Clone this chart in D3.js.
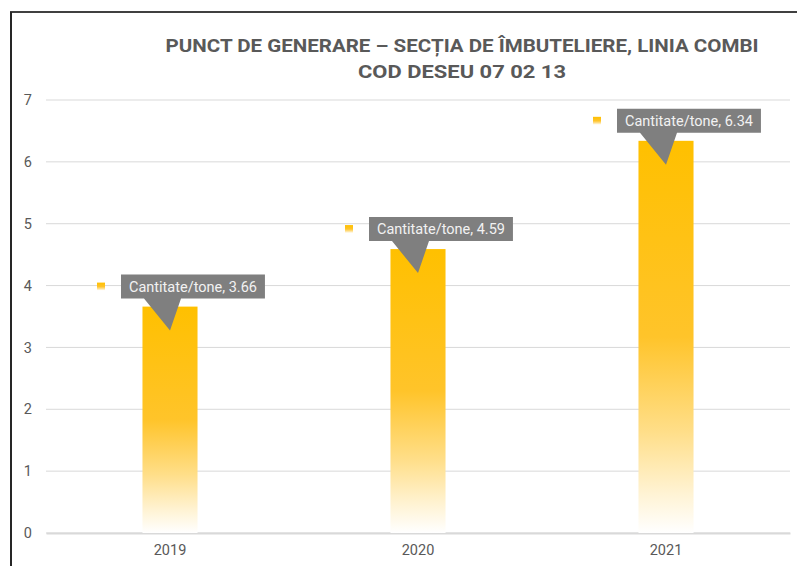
<!DOCTYPE html>
<html>
<head>
<meta charset="utf-8">
<script src="https://cdn.jsdelivr.net/npm/d3@7"></script>
<style>
  body { margin: 0; background: #fff; }
  svg text { font-family: "Roboto", "Liberation Sans", sans-serif; }
</style>
</head>
<body>
<svg width="797" height="566"></svg>
<script>
var years = ["2019", "2020", "2021"];
var values = [3.66, 4.59, 6.34];
var seriesName = "Cantitate/tone";
var yTicks = [0, 1, 2, 3, 4, 5, 6, 7];
var titleLines = ["PUNCT DE GENERARE \u2013 SEC\u021AIA DE \u00CEMBUTELIERE, LINIA COMBI", "COD DESEU 07 02 13"];
var titleWidths = [593, 208];

var svg = d3.select("svg");
var margin = { top: 100, right: 7, bottom: 33, left: 46 },
    width = 797 - margin.left - margin.right,
    height = 566 - margin.top - margin.bottom;

// gradient for bars: solid gold fading to white at the base
var defs = svg.append("defs");
var grad = defs.append("linearGradient")
    .attr("id", "barGrad")
    .attr("x1", 0).attr("y1", 0).attr("x2", 0).attr("y2", 1);
grad.append("stop").attr("offset", "0").attr("stop-color", "#FFC000");
grad.append("stop").attr("offset", "0.5").attr("stop-color", "#FFC42A");
grad.append("stop").attr("offset", "0.74").attr("stop-color", "#FFDE88");
grad.append("stop").attr("offset", "0.9").attr("stop-color", "#FFF3D4");
grad.append("stop").attr("offset", "1").attr("stop-color", "#FFFFFF");

// chart frame (cropped: only top and left visible)
svg.append("line").attr("x1", 10).attr("x2", 797).attr("y1", 12).attr("y2", 12)
    .attr("stroke", "#404040").attr("stroke-width", 2);
svg.append("line").attr("x1", 11).attr("x2", 11).attr("y1", 12).attr("y2", 566)
    .attr("stroke", "#262626").attr("stroke-width", 2);

// title
svg.append("g").selectAll("text").data(titleLines).enter()
    .append("text")
    .attr("x", 462)
    .attr("y", (d, i) => 52 + i * 26)
    .attr("text-anchor", "middle")
    .attr("font-size", 19)
    .attr("font-weight", "bold")
    .attr("fill", "#595959")
    .attr("textLength", (d, i) => titleWidths[i])
    .attr("lengthAdjust", "spacingAndGlyphs")
    .text(d => d);

var g = svg.append("g").attr("transform", "translate(" + margin.left + "," + margin.top + ")");

var x = d3.scaleBand().domain(years).range([0, width]).paddingInner(0.778).paddingOuter(0.389);
var y = d3.scaleLinear().domain([0, 7]).range([height, 0]);

// gridlines
g.append("g").selectAll("line").data(yTicks).enter()
    .append("line")
    .attr("x1", 0).attr("x2", width)
    .attr("y1", d => y(d)).attr("y2", d => y(d))
    .attr("stroke", "#d9d9d9").attr("stroke-width", 1);

// y axis labels
var yAxis = g.append("g").attr("transform", "translate(-11,0)")
    .call(d3.axisLeft(y).tickValues(yTicks).tickSize(0).tickFormat(d3.format("d")));
yAxis.select(".domain").remove();
yAxis.attr("font-size", 14.5);
yAxis.selectAll("text").attr("fill", "#595959");

// x axis labels
var xAxis = g.append("g").attr("transform", "translate(0," + height + ")")
    .call(d3.axisBottom(x).tickSize(0));
xAxis.select(".domain").attr("stroke", "#d9d9d9").attr("stroke-width", 2);
xAxis.attr("font-size", 14.5);
xAxis.selectAll("text").attr("fill", "#595959").attr("dy", "1.3em");

// bars
var data = years.map((d, i) => ({ year: d, value: values[i] }));
g.append("g").selectAll("rect").data(data).enter()
    .append("rect")
    .attr("x", d => x(d.year))
    .attr("y", d => y(d.value))
    .attr("width", x.bandwidth())
    .attr("height", d => height - y(d.value))
    .attr("fill", "url(#barGrad)");

// data label callouts
var labels = g.append("g").selectAll("g").data(data).enter().append("g");
labels.each(function (d) {
    var sel = d3.select(this);
    var cx = x(d.year) + x.bandwidth() / 2;
    var top = y(d.value);
    var left = cx - 49, boxBottom = top - 8, boxH = 24;
    var txt = sel.append("text")
        .attr("font-size", 14.5)
        .attr("fill", "#f2f2f2")
        .attr("y", boxBottom - 7)
        .text(seriesName + ", " + d.value.toFixed(2));
    var tw = txt.node().getComputedTextLength();
    var boxW = tw + 16;
    txt.attr("x", left + 8);
    sel.insert("path", "text")
        .attr("d", "M" + left + "," + (boxBottom - boxH) +
            "H" + (left + boxW) + "V" + boxBottom +
            "H" + (left + 60) + "L" + cx + "," + (top + 24) +
            "L" + (left + 23) + "," + boxBottom + "H" + left + "Z")
        .attr("fill", "#7f7f7f");
    sel.append("rect")
        .attr("x", left - 24).attr("y", boxBottom - boxH / 2 - 4)
        .attr("width", 8).attr("height", 8)
        .attr("fill", "url(#barGrad)");
});
</script>
</body>
</html>
